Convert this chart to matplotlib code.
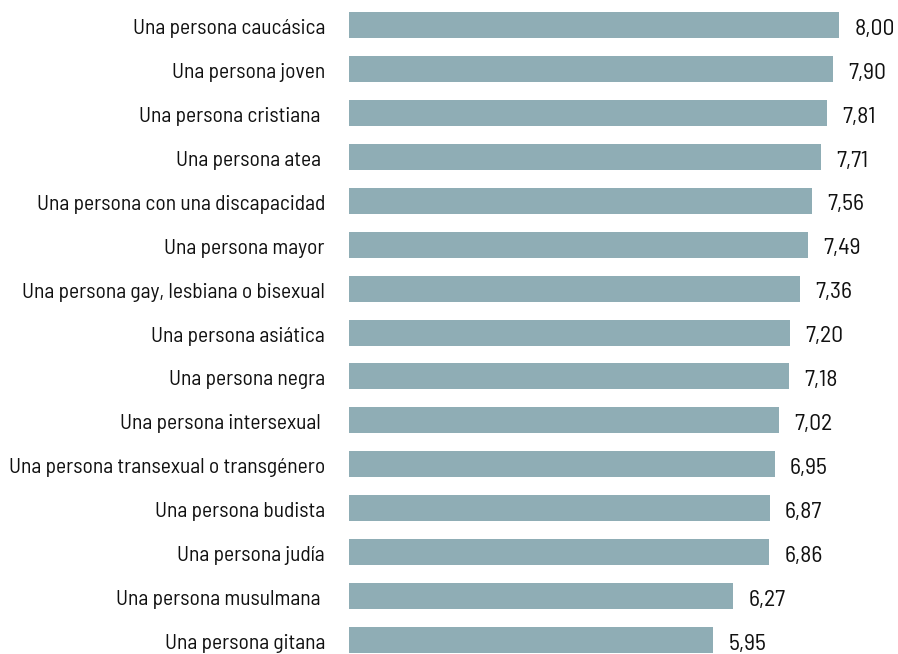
import matplotlib
matplotlib.use('Agg')
import matplotlib.pyplot as plt

# Data (top to bottom)
categories = [
    'Una persona caucásica',
    'Una persona joven',
    'Una persona cristiana ',
    'Una persona atea ',
    'Una persona con una discapacidad',
    'Una persona mayor',
    'Una persona gay, lesbiana o bisexual',
    'Una persona asiática',
    'Una persona negra',
    'Una persona intersexual ',
    'Una persona transexual o transgénero',
    'Una persona budista',
    'Una persona judía',
    'Una persona musulmana ',
    'Una persona gitana',
]
values = [8.00, 7.90, 7.81, 7.71, 7.56, 7.49, 7.36, 7.20, 7.18, 7.02,
          6.95, 6.87, 6.86, 6.27, 5.95]

plt.rcParams['font.family'] = ['Barlow Semi Condensed', 'DejaVu Sans']

W, H, DPI = 898, 654, 100
fig = plt.figure(figsize=(W / DPI, H / DPI), dpi=DPI)
ax = fig.add_axes([349 / W, 0, 1 - 349 / W, 1])

pos = list(range(len(categories)))
ax.barh(pos, values, height=0.592, color='#8fadb5')

ax.set_xlim(0, 549 / 61.25)
ax.set_ylim(14.318, -0.569)
ax.set_xticks([])
ax.set_yticks([])

# category labels to the left of the bars
for p, lab in zip(pos, categories):
    ax.annotate(lab, xy=(0, p), xytext=(-17.3, -6.5),
                textcoords='offset points', va='baseline', ha='right',
                fontsize=15.5, color='#111111', annotation_clip=False)

# value labels
for p, v in zip(pos, values):
    ax.annotate(f'{v:.2f}'.replace('.', ','), xy=(v, p), xytext=(11, -7),
                textcoords='offset points', va='baseline', ha='left',
                fontsize=17, color='#111111')

for s in ax.spines.values():
    s.set_visible(False)

fig.savefig('out.png', dpi=DPI)
